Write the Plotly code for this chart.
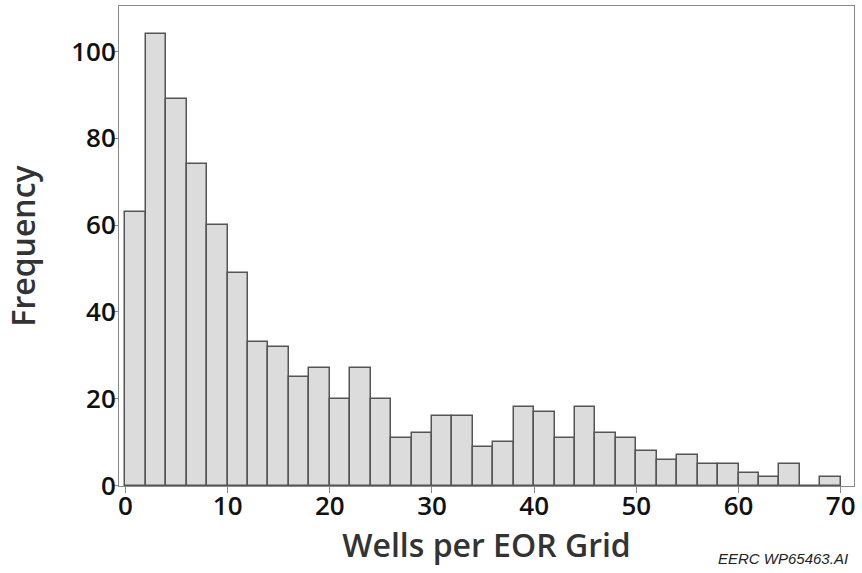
import plotly.graph_objects as go

bin_starts = list(range(0, 70, 2))
counts = [63, 104, 89, 74, 60, 49, 33, 32, 25, 27, 20, 27, 20, 11, 12, 16, 16, 9, 10,
          18, 17, 11, 18, 12, 11, 8, 6, 7, 5, 5, 3, 2, 5, 0, 2]
bin_width = 2
x_ticks = [0, 10, 20, 30, 40, 50, 60, 70]
y_ticks = [0, 20, 40, 60, 80, 100]
x_title = "Wells per EOR Grid"
y_title = "Frequency"
credit = "EERC WP65463.AI"

centers = [s + bin_width / 2 for s in bin_starts]

fig = go.Figure(go.Bar(
    x=centers, y=counts, width=bin_width,
    marker=dict(color="#dcdcdc", line=dict(color="#555555", width=1.5)),
    hoverinfo="x+y",
))

tick_font = dict(family="Open Sans, sans-serif", size=26, color="#111111", weight=600)
title_font = dict(family="Open Sans, sans-serif", size=32, color="#333333", weight=600)

fig.update_layout(
    width=862, height=573,
    margin=dict(l=119, r=8, t=6, b=87),
    paper_bgcolor="white", plot_bgcolor="white",
    showlegend=False,
    bargap=0,
    xaxis=dict(
        range=[-0.63, 71.3], tickvals=x_ticks, ticks="outside", ticklen=6, tickwidth=1,
        tickcolor="#888888", showline=True, linecolor="#888888", linewidth=1, mirror=True,
        showgrid=False, zeroline=False, tickfont=tick_font, ticklabelstandoff=-9,
        title=dict(text=x_title, font=title_font, standoff=9),
    ),
    yaxis=dict(
        range=[-0.1, 110.5], tickvals=y_ticks, ticks="outside", ticklen=6, tickwidth=1,
        tickcolor="#888888", showline=True, linecolor="#888888", linewidth=1, mirror=True,
        showgrid=False, zeroline=False, tickfont=tick_font, ticklabelstandoff=-9,
        title=dict(text=y_title, font=title_font, standoff=25),
    ),
    annotations=[dict(
        text="<i>" + credit + "</i>", xref="paper", yref="paper", x=0.9946, y=-0.13,
        xanchor="right", yanchor="top", showarrow=False,
        font=dict(family="Liberation Sans, Arial, sans-serif", size=15, color="#222222"),
    )],
)

fig.write_html("out.html", config={"displayModeBar": False},
               post_script="document.body.style.margin='0';")
